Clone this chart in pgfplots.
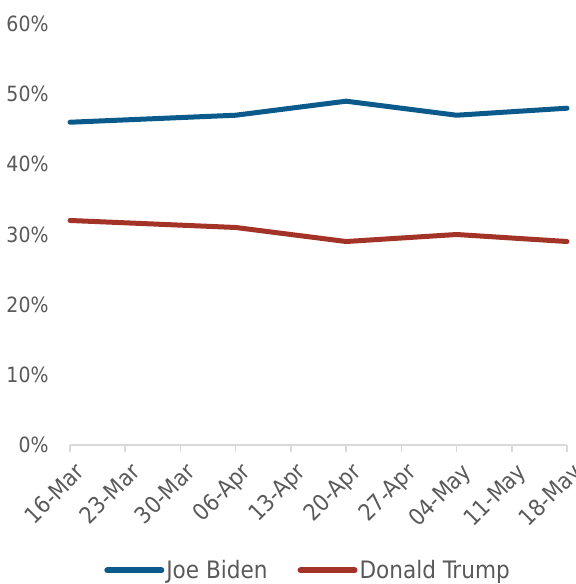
\documentclass[border=0pt]{standalone}
\usepackage{pgfplots}
\pgfplotsset{compat=1.18}
\usepackage{fontspec}
\setmainfont{DejaVu Sans Condensed}
\definecolor{biden}{HTML}{0B5A8C}
\definecolor{trump}{HTML}{A33327}
\definecolor{txt}{HTML}{595959}
\definecolor{axgray}{HTML}{D9D9D9}
\begin{document}
\begin{tikzpicture}
\useasboundingbox (-70bp,-139bp) rectangle (506bp,445bp);
\begin{axis}[
  at={(0bp,0bp)}, anchor=south west,
  scale only axis, width=497bp, height=421bp,
  xmin=0, xmax=9, ymin=0, ymax=60, clip=false,
  xtick={0,...,9},
  xticklabels={16-Mar,23-Mar,30-Mar,06-Apr,13-Apr,20-Apr,27-Apr,04-May,11-May,18-May},
  ytick={0,10,...,60},
  yticklabel={\pgfmathprintnumber{\tick}\%},
  /pgf/number format/assume math mode=true,
  axis x line*=bottom, axis y line*=left,
  axis line style={-},
  y axis line style={draw=none},
  x axis line style={axgray, line width=1.5bp},
  xtick style={axgray, line width=1.5bp},
  ytick style={draw=none},
  tick align=outside, major tick length=7bp,
  tick label style={text=txt},
  yticklabel style={font=\fontsize{21bp}{24bp}\selectfont, xshift=-11bp},
  xticklabel style={font=\fontsize{23bp}{26bp}\selectfont, rotate=45, anchor=north east, xshift=-0.5bp, yshift=-6bp},
  legend style={at={(0.479,-0.298)}, anchor=center, draw=none, fill=none,
    font=\fontsize{24bp}{26bp}\selectfont, text=txt, legend columns=2,
    /tikz/every even column/.append style={column sep=28bp},
    legend cell align=left, inner sep=0pt,
    nodes={inner xsep=2bp}},
  legend image code/.code={\draw[#1, line width=6bp, line cap=round] (0bp,0bp) -- (54bp,0bp);},
]
\addplot[biden, line width=5bp, line cap=round, line join=round] coordinates {(0,46)(3,47)(5,49)(7,47)(9,48)};
\addlegendentry{Joe Biden}
\addplot[trump, line width=5bp, line cap=round, line join=round] coordinates {(0,32)(3,31)(5,29)(7,30)(9,29)};
\addlegendentry{Donald Trump}
\end{axis}
\end{tikzpicture}
\end{document}
